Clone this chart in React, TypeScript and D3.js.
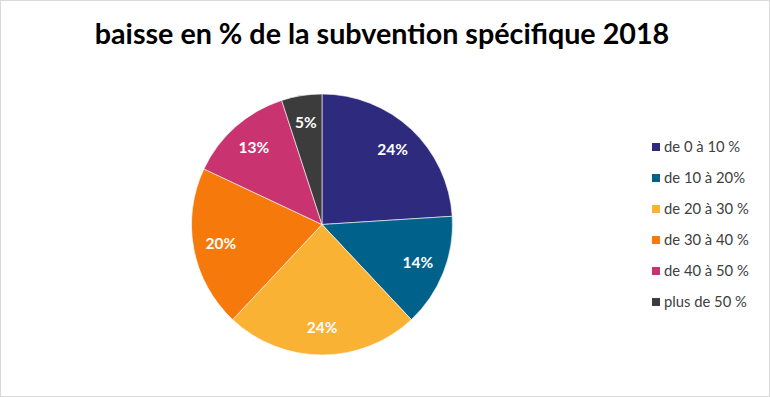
import React from 'react';
import * as d3 from 'd3';

const categories = ['de 0 à 10 %', 'de 10 à 20%', 'de 20 à 30 %', 'de 30 à 40 %', 'de 40 à 50 %', 'plus de 50 %'];
const values = [24, 14, 24, 20, 13, 5];
const colors = ['#2e2a7e', '#00628b', '#f9b233', '#f57a0b', '#c9336f', '#3c3c3c'];

const W = 770;
const H = 397;
const FONT = 'Lato, "Open Sans", sans-serif';

const App: React.FC = () => {
  const cx = 322;
  const cy = 224.5;
  const r = 130.5;

  const pie = d3.pie<number>().sort(null).value(d => d);
  const arcs = pie(values);
  const arc = d3.arc<d3.PieArcDatum<number>>().innerRadius(0).outerRadius(r);
  const labelArc = d3.arc<d3.PieArcDatum<number>>().innerRadius(r * 0.79).outerRadius(r * 0.79);

  const legendY = d3.scalePoint<string>().domain(categories).range([147, 302]);

  return (
    <div style={{ position: 'fixed', left: 0, top: 0, width: W, height: H, background: '#fff' }}>
      <svg width={W} height={H} style={{ display: 'block' }}>
        <rect x={0.5} y={0.5} width={W - 1} height={H - 1} fill="#fff" stroke="#d9d9d9" />
        <text x={382} y={44} textAnchor="middle" fontFamily={FONT} fontWeight="bold" fontSize={28.7} fill="#000">
          baisse en % de la subvention spécifique 2018
        </text>
        <g transform={`translate(${cx},${cy})`}>
          {arcs.map((a, i) => (
            <path key={i} d={arc(a) || ''} fill={colors[i]} stroke="#fff" strokeWidth={0.6} />
          ))}
          {arcs.map((a, i) => {
            const [x, y] = labelArc.centroid(a);
            return (
              <text key={i} x={x} y={y} dy="0.35em" textAnchor="middle" fontFamily={FONT} fontWeight="bold" fontSize={15.5} fill="#fff">
                {values[i]}%
              </text>
            );
          })}
        </g>
        <g>
          {categories.map((c, i) => {
            const y = legendY(c) || 0;
            return (
              <g key={c}>
                <rect x={652} y={y - 4} width={8} height={8} fill={colors[i]} />
                <text x={664} y={y} dy="0.35em" fontFamily={FONT} fontSize={14.8} fill="#404040">
                  {c}
                </text>
              </g>
            );
          })}
        </g>
      </svg>
    </div>
  );
};

export default App;
